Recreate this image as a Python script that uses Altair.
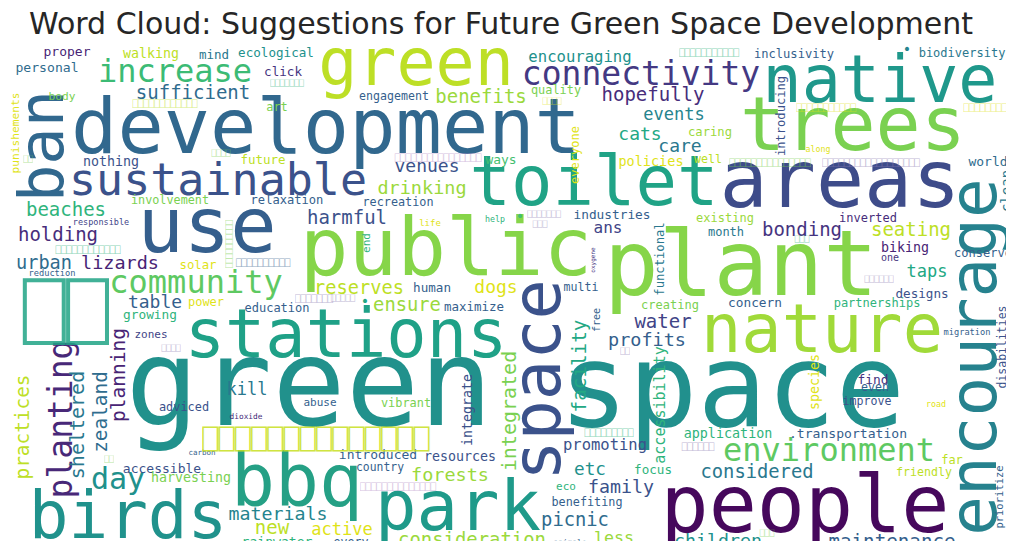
import altair as alt
import pandas as pd

TITLE = "Word Cloud: Suggestions for Future Green Space Development"

# (word, x, y, font size, angle, colour) as laid out by the word cloud
large_words = [
    ("development", 326, 130, 77, 0, "#31688e"),
    ("sustainable", 218, 181, 45, 0, "#3b528b"),
    ("ban", 44, 146, 62, 270, "#31688e"),
    ("green", 416, 65, 65, 0, "#bddf26"),
    ("connectivity", 641, 75, 33, 0, "#443983"),
    ("native", 880, 82, 65, 0, "#1f988b"),
    ("trees", 853, 127, 75, 0, "#7ad151"),
    ("toilet", 594, 184, 69, 0, "#20a386"),
    ("areas", 840, 183, 80, 0, "#3e4c8a"),
    ("use", 207, 229, 77, 0, "#355f8d"),
    ("public", 446, 251, 81, 0, "#86d549"),
    ("plant", 741, 268, 91, 0, "#86d549"),
    ("nature", 822, 332, 67, 0, "#a0da39"),
    ("stations", 346, 337, 67, 0, "#1fa187"),
    ("green", 309, 388, 122, 0, "#21918c"),
    ("space", 732, 391, 115, 0, "#21908d"),
    ("space", 540, 380, 67, 270, "#3b528b"),
    ("encourage", 976, 357, 66, 270, "#26828e"),
    ("planting", 62, 419, 33, 270, "#482878"),
    ("birds", 128, 518, 66, 0, "#20928c"),
    ("bbq", 297, 484, 73, 0, "#25a085"),
    ("park", 458, 509, 69, 0, "#1f9a8a"),
    ("people", 805, 508, 80, 0, "#46085c"),
    ("environment", 829, 451, 32, 0, "#5ec962"),
    ("increase", 175, 72, 32, 0, "#3cbb75"),
    ("community", 196, 283, 32, 0, "#5ec962"),
    ("day", 118, 480, 30, 0, "#21918c"),
]

medium_words = [
    ("sufficient", 193, 93, 19, 0, "#2f6c8e"),
    ("benefits", 481, 97, 19, 0, "#9bd93c"),
    ("hopefully", 653, 95, 19, 0, "#472d7b"),
    ("events", 674, 115, 17, 0, "#25848e"),
    ("cats", 640, 135, 18, 0, "#22a884"),
    ("care", 680, 147, 18, 0, "#2a788e"),
    ("venues", 427, 167, 18, 0, "#3b528b"),
    ("drinking", 422, 188, 18.5, 0, "#9bd93c"),
    ("beaches", 66, 210, 19, 0, "#2fb47c"),
    ("harmful", 347, 218, 19, 0, "#3b528b"),
    ("holding", 58, 235, 19, 0, "#472d7b"),
    ("urban", 44, 263, 18.6, 0, "#2f6c8e"),
    ("lizards", 120, 263, 18.5, 0, "#482475"),
    ("reserves", 359, 288, 18.7, 0, "#bddf26"),
    ("table", 155, 303, 18, 0, "#355f8d"),
    ("ans", 608, 228, 16, 0, "#414487"),
    ("dogs", 496, 288, 18, 0, "#dfe318"),
    ("ensure", 407, 305, 18.8, 0, "#9bd93c"),
    ("water", 663, 322, 19, 0, "#414487"),
    ("profits", 647, 340, 18.5, 0, "#355f8d"),
    ("bonding", 802, 230, 19, 0, "#463480"),
    ("seating", 911, 230, 19, 0, "#bddf26"),
    ("taps", 927, 272, 17, 0, "#22a884"),
    ("encouraging", 580, 57, 15.6, 0, "#21918c"),
    ("kill", 247, 390, 17, 0, "#2a788e"),
    ("materials", 278, 515, 18.3, 0, "#25848e"),
    ("new", 272, 528, 19, 0, "#bddf26"),
    ("active", 342, 530, 17, 0, "#dfe318"),
    ("promoting", 605, 445, 15.5, 0, "#3b528b"),
    ("forests", 450, 475, 18.5, 0, "#9bd93c"),
    ("etc", 590, 470, 17.7, 0, "#21918c"),
    ("family", 621, 488, 18.3, 0, "#3b528b"),
    ("picnic", 575, 520, 18.8, 0, "#2f6c8e"),
    ("less", 614, 538, 16.6, 0, "#9bd93c"),
    ("consideration", 472, 540, 18.9, 0, "#9bd93c"),
    ("considered", 757, 472, 18.8, 0, "#2a788e"),
    ("children", 718, 542, 18.3, 0, "#21918c"),
    ("maintenance", 892, 542, 19.2, 0, "#355f8d"),
    ("facility", 580, 366, 19.3, 270, "#22a884"),
    ("practices", 23, 427, 19.4, 270, "#bddf26"),
    ("sheltered", 78, 425, 20, 270, "#2a788e"),
    ("zealand", 101, 412, 19.4, 270, "#2f6c8e"),
    ("planning", 119, 375, 19.5, 270, "#482475"),
    ("integrated", 510, 411, 20, 270, "#7ad151"),
    ("accessibility", 660, 405, 15, 270, "#2fb47c"),
]

small_words = [
    ("proper", 67, 52, 13, 0, "#482475"),
    ("walking", 151, 54, 13.3, 0, "#bddf26"),
    ("mind", 214, 55, 12.5, 0, "#2a788e"),
    ("ecological", 276, 53, 12.6, 0, "#21918c"),
    ("personal", 47, 68, 13.1, 0, "#2f6c8e"),
    ("click", 283, 72, 12.6, 0, "#463480"),
    ("body", 62, 97, 11.2, 0, "#7ad151"),
    ("art", 277, 107, 12, 0, "#7ad151"),
    ("nothing", 111, 162, 13.3, 0, "#3b528b"),
    ("future", 263, 160, 12.5, 0, "#bddf26"),
    ("involvement", 170, 200, 11.8, 0, "#7ad151"),
    ("relaxation", 287, 200, 12.1, 0, "#355f8d"),
    ("engagement", 394, 97, 11.6, 0, "#355f8d"),
    ("quality", 556, 90, 11.9, 0, "#7ad151"),
    ("caring", 710, 132, 12.2, 0, "#9bd93c"),
    ("ways", 501, 160, 12.9, 0, "#44bf70"),
    ("policies", 651, 162, 13.5, 0, "#dfe318"),
    ("well", 708, 160, 11.6, 0, "#bddf26"),
    ("recreation", 398, 202, 11.8, 0, "#355f8d"),
    ("inclusivity", 794, 54, 12.1, 0, "#355f8d"),
    ("biodiversity", 962, 53, 12, 0, "#2a788e"),
    ("•", 907, 50, 14, 0, "#25848e"),
    ("along", 818, 150, 8.3, 0, "#dfe318"),
    ("world", 988, 162, 13, 0, "#2f6c8e"),
    ("responsible", 101, 222, 8.5, 0, "#414487"),
    ("solar", 198, 265, 12.3, 0, "#dfe318"),
    ("reduction", 52, 273, 8.7, 0, "#355f8d"),
    ("power", 206, 302, 12, 0, "#dfe318"),
    ("education", 277, 308, 12, 0, "#355f8d"),
    ("growing", 150, 315, 12.8, 0, "#2fb47c"),
    ("zones", 151, 335, 11, 0, "#414487"),
    ("life", 430, 223, 9, 0, "#dfe318"),
    ("help", 495, 220, 8.3, 0, "#2fb47c"),
    ("•", 520, 217, 14, 0, "#44bf70"),
    ("industries", 612, 215, 12.8, 0, "#355f8d"),
    ("human", 432, 288, 12.6, 0, "#355f8d"),
    ("multi", 581, 288, 11.6, 0, "#355f8d"),
    ("•", 365, 302, 14, 0, "#22a884"),
    ("maximize", 474, 307, 12.5, 0, "#355f8d"),
    ("creating", 670, 305, 12, 0, "#7ad151"),
    ("existing", 725, 218, 12, 0, "#9bd93c"),
    ("inverted", 868, 218, 12, 0, "#472d7b"),
    ("month", 726, 232, 12, 0, "#2a788e"),
    ("biking", 905, 248, 13.3, 0, "#482475"),
    ("one", 890, 258, 10, 0, "#463480"),
    ("conserve", 983, 253, 12, 0, "#355f8d"),
    ("concern", 755, 303, 12.8, 0, "#355f8d"),
    ("partnerships", 877, 303, 12, 0, "#2fb47c"),
    ("designs", 922, 294, 12.6, 0, "#3b528b"),
    ("migration", 967, 332, 8.7, 0, "#355f8d"),
    ("adviced", 184, 407, 11.9, 0, "#3b528b"),
    ("abuse", 320, 403, 11, 0, "#355f8d"),
    ("dioxide", 246, 417, 7.8, 0, "#472d7b"),
    ("carbon", 202, 453, 7.5, 0, "#355f8d"),
    ("accessible", 162, 469, 13, 0, "#3b528b"),
    ("harvesting", 191, 478, 13.3, 0, "#7ad151"),
    ("rainwater", 277, 542, 13.1, 0, "#2fb47c"),
    ("every", 351, 543, 11.6, 0, "#355f8d"),
    ("vibrant", 406, 403, 11.9, 0, "#7ad151"),
    ("introduced", 378, 455, 13, 0, "#355f8d"),
    ("resources", 460, 457, 13.3, 0, "#3b528b"),
    ("country", 380, 468, 11.4, 0, "#355f8d"),
    ("focus", 653, 470, 12.6, 0, "#2fb47c"),
    ("eco", 566, 487, 11, 0, "#2fb47c"),
    ("benefiting", 587, 502, 11.8, 0, "#355f8d"),
    ("animals", 570, 543, 7.8, 0, "#355f8d"),
    ("find", 873, 380, 12.9, 0, "#463480"),
    ("even", 875, 388, 11.6, 0, "#355f8d"),
    ("improve", 867, 402, 11.6, 0, "#3b528b"),
    ("road", 936, 405, 8.3, 0, "#dfe318"),
    ("application", 728, 434, 13.4, 0, "#2fb47c"),
    (".transportation", 848, 434, 13.1, 0, "#355f8d"),
    ("far", 952, 460, 12, 0, "#bddf26"),
    ("friendly", 924, 473, 11.6, 0, "#bddf26"),
    ("punishements", 16, 133, 11.2, 270, "#dfe318"),
    ("everyone", 575, 155, 12, 270, "#dfe318"),
    ("introducing", 781, 116, 12.1, 270, "#3b528b"),
    ("clean", 1007, 191, 14, 270, "#2a788e"),
    ("end", 367, 243, 11, 270, "#2fb47c"),
    ("oxygene", 593, 260, 6, 270, "#463480"),
    ("functional", 660, 259, 12.2, 270, "#2a788e"),
    ("free", 597, 320, 10, 270, "#355f8d"),
    ("disabilities", 1003, 347, 11.5, 270, "#3b528b"),
    ("species", 815, 382, 13.3, 270, "#dfe318"),
    ("integrate", 468, 410, 13.3, 270, "#3b528b"),
    ("prioritize", 1000, 497, 10.5, 270, "#355f8d"),
]

# words whose glyphs were missing in the cloud's font (drawn as empty boxes):
# (number of boxes, x, y, font size, angle, colour)
missing_glyph_words = [
    (2, 66, 316, 72, 0, "#20a486"),
    (14, 316, 441, 27, 0, "#c8e020"),
    (12, 165, 104, 9, 0, "#bddf26"),
    (7, 287, 84, 8, 0, "#2fb47c"),
    (4, 221, 154, 8, 0, "#7ad151"),
    (2, 28, 160, 8, 0, "#7ad151"),
    (4, 552, 102, 8, 0, "#dfe318"),
    (16, 438, 158, 9, 0, "#b48cc8"),
    (11, 709, 53, 9, 0, "#2fb47c"),
    (11, 826, 108, 9, 0, "#dfe318"),
    (9, 988, 108, 9, 0, "#dfe318"),
    (15, 770, 163, 9, 0, "#7ad151"),
    (18, 871, 163, 9, 0, "#8c7cb4"),
    (10, 230, 244, 8, 270, "#7ad151"),
    (12, 88, 250, 9, 0, "#2fb47c"),
    (10, 263, 263, 9, 0, "#355f8d"),
    (7, 314, 299, 9, 0, "#8c7cb4"),
    (4, 171, 349, 8, 0, "#8c7cb4"),
    (7, 544, 215, 8, 0, "#8c7cb4"),
    (3, 540, 225, 8, 0, "#8c7cb4"),
    (5, 343, 299, 8, 0, "#8c7cb4"),
    (2, 625, 352, 8, 0, "#8c7cb4"),
    (3, 802, 240, 8, 0, "#2fb47c"),
    (6, 879, 280, 8, 0, "#8c7cb4"),
    (2, 109, 460, 8, 0, "#7ad151"),
    (9, 609, 433, 9, 0, "#2fb47c"),
    (14, 398, 487, 9, 0, "#b48cc8"),
    (6, 698, 447, 9, 0, "#8c7cb4"),
    (3, 767, 534, 8, 0, "#7ad151"),
]

rows = []
for group in (large_words, medium_words, small_words):
    for w, x, y, s, a, c in group:
        rows.append({"word": w, "x": x, "y": y, "size": s, "angle": a, "color": c, "opacity": 1.0})
for n, x, y, s, a, c in missing_glyph_words:
    rows.append({"word": "\u2395" * n, "x": x, "y": y, "size": s, "angle": a, "color": c,
                 "opacity": 0.85 if s > 20 else 0.55})

df = pd.DataFrame(rows)

W, H = 998, 533
xs = alt.Scale(domain=[8, 8 + W], range=[0, W])
ys = alt.Scale(domain=[8 + H, 8], nice=False, zero=False)

cloud = alt.Chart(df).mark_text(
    font="DejaVu Sans Mono", align="center", baseline="middle"
).encode(
    x=alt.X("x:Q", scale=xs, axis=None),
    y=alt.Y("y:Q", scale=ys, axis=None),
    text="word:N",
    size=alt.Size("size:Q", scale=None, legend=None),
    angle=alt.Angle("angle:Q", scale=None),
    color=alt.Color("color:N", scale=None, legend=None),
    opacity=alt.Opacity("opacity:Q", scale=None, legend=None),
)

title_df = pd.DataFrame({"t": [TITLE], "x": [501], "y": [25]})
title = alt.Chart(title_df).mark_text(
    font="DejaVu Sans", fontSize=30, color="#262626", align="center", baseline="middle"
).encode(
    x=alt.X("x:Q", scale=xs, axis=None),
    y=alt.Y("y:Q", scale=ys, axis=None),
    text="t:N",
)

chart = (cloud + title).properties(
    width=W, height=H, padding=0, autosize=alt.AutoSizeParams(type="none"),
    background="white",
).configure_view(stroke=None)

chart.save("out.html", embed_options={"renderer": "svg", "actions": False})
